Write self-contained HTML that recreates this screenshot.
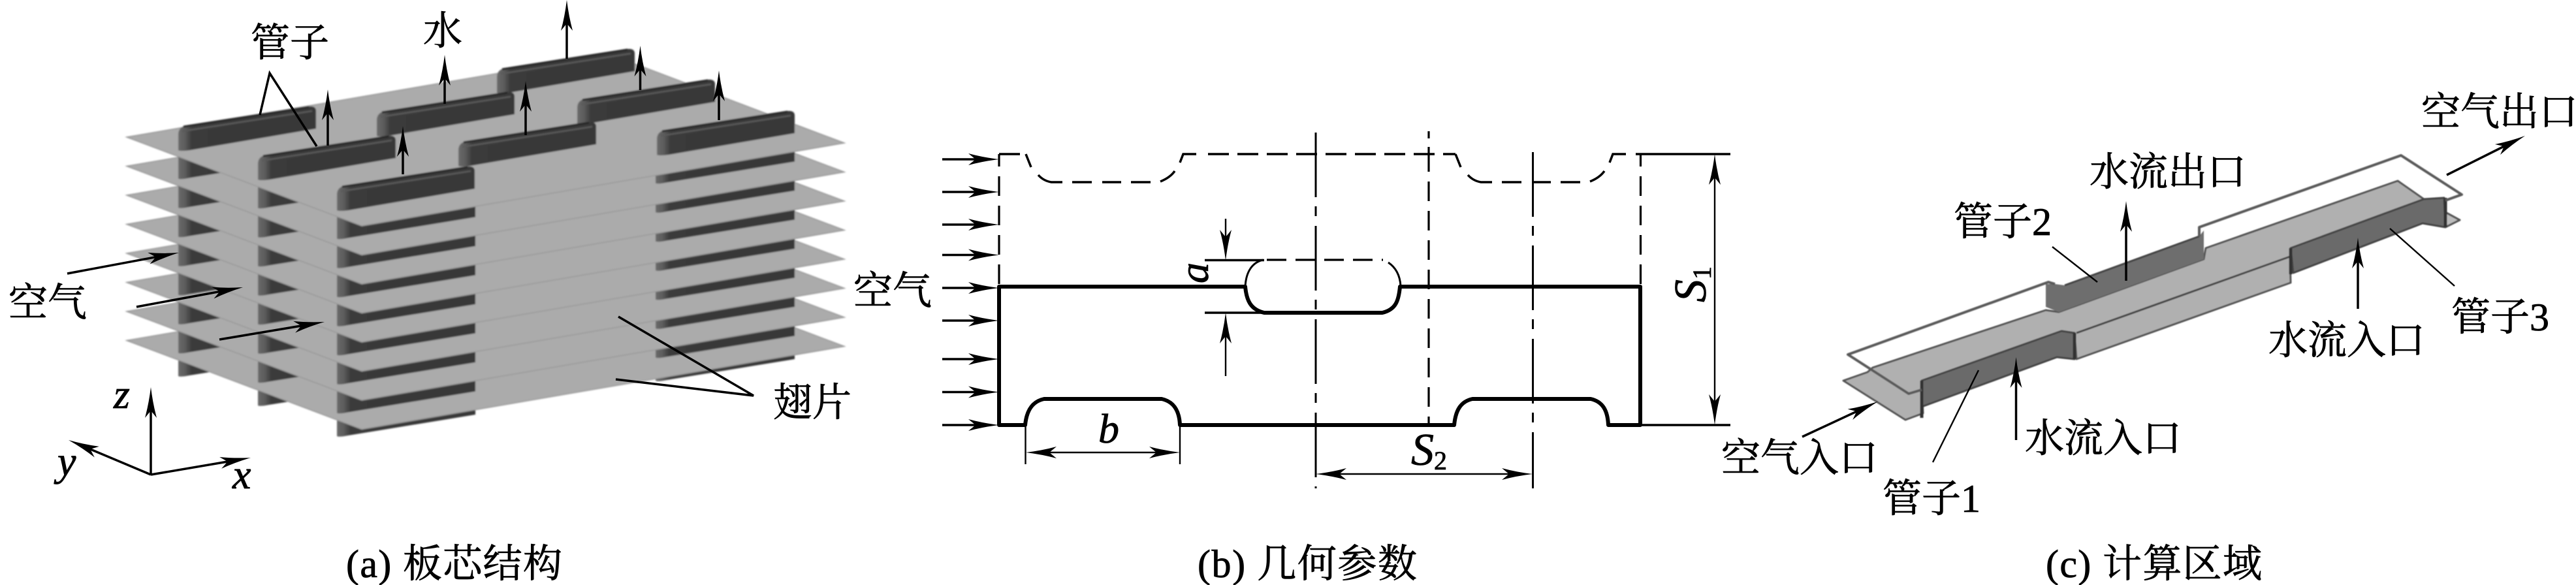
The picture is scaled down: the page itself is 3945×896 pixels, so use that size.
<!DOCTYPE html>
<html lang="zh"><head><meta charset="utf-8"><title>板芯结构 几何参数 计算区域</title>
<style>html,body{margin:0;padding:0;background:#fff}svg{display:block}
text{font-family:"Liberation Serif","Noto Serif CJK SC",serif;font-size:60px;fill:#000;stroke:#000;stroke-width:.8}
.i{font-style:italic;font-size:64px}.s{font-size:70px}.l{stroke:#000;stroke-width:3.5;fill:none}.t{stroke:#000;stroke-width:2.4;fill:none}
.k{stroke:#000;stroke-width:6;fill:none;stroke-linejoin:round}.d{stroke:#000;stroke-width:3.2;fill:none;stroke-dasharray:30 15}
.h{stroke:#000;stroke-width:3.5;fill:none;stroke-dasharray:32 13}
.c{stroke:#000;stroke-width:3;fill:none;stroke-dasharray:99 14 15 15}
</style></head><body>
<svg width="3945" height="896" viewBox="0 0 3945 896" xmlns="http://www.w3.org/2000/svg">
<defs>
<marker id="h" markerUnits="userSpaceOnUse" viewBox="-40 -12 60 24" refX="0" refY="0" markerWidth="60" markerHeight="24" orient="auto-start-reverse"><path d="M15 0Q-10 -3 -32 -9L-21 0L-32 9Q-10 3 15 0Z" fill="#000"/></marker>
<linearGradient id="g"><stop offset="0" stop-color="#6a6a6a"/><stop offset=".05" stop-color="#5c5c5c"/><stop offset=".1" stop-color="#3a3a3a"/><stop offset="1" stop-color="#383838"/></linearGradient>
<filter id="b" x="-5%" y="-5%" width="110%" height="110%"><feGaussianBlur stdDeviation="1.1"/></filter>
<filter id="b2" x="-2%" y="-2%" width="104%" height="104%"><feGaussianBlur stdDeviation=".8"/></filter>
<polygon id="fin" points="194,210 933,83 1293,219 554,346" fill="#ababab" stroke="#999" stroke-width="1.5"/>
<g id="seg" fill="url(#g)">
<path d="M273 184L483 151L483 197L290 228Q276 231 273 229Z"/>
<path d="M395 229L606 196L606 242L412 273Q398 276 395 274Z"/>
<path d="M516 276L728 242L728 288L533 320Q519 323 516 321Z"/>
<path d="M1004 191L1217 157L1217 203L1021 235Q1007 238 1004 236Z"/>
</g>
<g id="top"><path d="M0 12Q0 0 14 -2L200 -31Q211 -32 211 -24V3L18 36Q3 38 0 36Z" fill="url(#g)"/><path d="M6 7L205 -24" stroke="#5a5a5a" stroke-width="2.5" fill="none"/><path d="M8 0L200 -30" stroke="#262626" stroke-width="3" fill="none"/></g>
<path id="bump" class="l" d="M2229 236L2237 256M2248 268Q2256 277 2268 279H2285M2300 279H2330M2346 279H2375M2390 279H2420M2435 278Q2450 272 2457 262M2465 249L2470 236H2490"/>
</defs>

<!-- (a) -->
<g filter="url(#b)">
<use href="#seg" y="347"/><use href="#fin" y="311.5"/>
<use href="#seg" y="311.5"/><use href="#fin" y="267"/>
<use href="#seg" y="267"/><use href="#fin" y="222.5"/>
<use href="#seg" y="222.5"/><use href="#fin" y="178"/>
<use href="#seg" y="178"/><use href="#fin" y="133.5"/>
<use href="#seg" y="133.5"/><use href="#fin" y="89"/>
<use href="#seg" y="89"/><use href="#fin" y="44.5"/>
<use href="#seg" y="44.5"/><use href="#fin"/>
<use href="#top" x="761" y="106"/><use href="#top" x="577" y="172"/><use href="#top" x="884" y="153"/><use href="#top" x="273" y="194"/>
<use href="#top" x="702" y="218"/><use href="#top" x="395" y="239"/><use href="#top" x="1006" y="201"/><use href="#top" x="516" y="286"/>
</g>
<g class="l">
<path d="M502 223V152" marker-end="url(#h)"/><path d="M681 159V99" marker-end="url(#h)"/><path d="M617 267V208" marker-end="url(#h)"/>
<path d="M868 90V15" marker-end="url(#h)"/><path d="M980.5 138V85" marker-end="url(#h)"/><path d="M805 207V139" marker-end="url(#h)"/><path d="M1101 184V123" marker-end="url(#h)"/>
<path d="M103 419L259.3 389.8" marker-end="url(#h)"/><path d="M209 470L357.3 442.7" marker-end="url(#h)"/><path d="M336 520L482.2 495.5" marker-end="url(#h)"/>
<path d="M231 727V608" marker-end="url(#h)"/><path d="M231 727L369.2 703.5" marker-end="url(#h)"/><path d="M231 727L118.8 679.8" marker-end="url(#h)"/>
</g>
<path class="l" d="M398 176L413 112L485 224"/>
<path class="l" d="M947 485L1154 606L943 581"/>
<text x="384" y="86">管子</text><text x="648" y="68">水</text><text x="13" y="484">空气</text><text x="1184" y="637">翅片</text>
<text class="i" x="174" y="625">z</text><text class="i" x="88" y="728">y</text><text class="i" x="356" y="748">x</text>
<text x="530" y="884" textLength="331">(a) 板芯结构</text>

<!-- (b) -->
<path class="k" d="M1530 651V439H1907C1909 460 1915 474 1936 479H2117C2138 474 2142 460 2144 439H2512V651H2463C2462 628 2454 615 2436 611H2255C2236 615 2229 630 2227 651H1807C1806 628 1797 615 1779 611H1599C1580 615 1572 630 1570 651Z"/>
<use href="#bump"/><use href="#bump" x="-658"/>
<path class="l" d="M1530 236H1562"/>
<path class="h" d="M1850 236H2229"/>
<path class="d" style="stroke-dashoffset:11" d="M1530 236V439M2512.5 236V439"/>
<path class="d" d="M2188 233V651M2188 201V212M2188 225V233"/>
<path class="d" style="stroke-dasharray:30 14" d="M1940 398H2118"/>
<path class="t" style="stroke-width:3" d="M1907 439C1908 420 1915 403 1934 398M2145 438C2144 422 2138 410 2126 402"/>
<path class="l" d="M1845 398.5H1936M1845 479H1936"/>
<path class="c" d="M2015 203V748M2347.5 233V748"/>
<path class="l" d="M2505 236H2650M2512 651H2650"/>
<path class="t" d="M1570.5 651V711M1807 651V711"/>
<path class="t" d="M1877 335V384" marker-end="url(#h)"/><path class="t" d="M1877 576V494" marker-end="url(#h)"/>
<path class="t" d="M2626 251V636" marker-start="url(#h)" marker-end="url(#h)"/>
<path class="t" d="M1586 693H1792" marker-start="url(#h)" marker-end="url(#h)"/>
<path class="t" d="M2030 726H2332" marker-start="url(#h)" marker-end="url(#h)"/>
<path class="l" d="M1443 244H1515" marker-end="url(#h)"/><path class="l" d="M1443 294H1515" marker-end="url(#h)"/><path class="l" d="M1443 344H1515" marker-end="url(#h)"/><path class="l" d="M1443 390.5H1515" marker-end="url(#h)"/><path class="l" d="M1443 441H1515" marker-end="url(#h)"/><path class="l" d="M1443 491H1515" marker-end="url(#h)"/><path class="l" d="M1443 550H1515" marker-end="url(#h)"/><path class="l" d="M1443 600.5H1515" marker-end="url(#h)"/><path class="l" d="M1443 651H1515" marker-end="url(#h)"/>
<text x="1307" y="466">空气</text>
<text class="i" x="1682" y="678">b</text>
<text class="i" transform="translate(1850,434) rotate(-90)">a</text>
<text class="i s" transform="translate(2612,463) rotate(-90)">S<tspan font-size="40" dy="8" font-style="normal">1</tspan></text>
<text class="i s" x="2161" y="712">S<tspan font-size="40" dy="7" font-style="normal">2</tspan></text>
<text x="1834" y="884" textLength="336">(b) 几何参数</text>

<!-- (c) -->
<g filter="url(#b2)" stroke-linejoin="round">
<polygon points="2823,583 2860,570 2868,563 3133,475 3153,478 3375,397 3378,380 3672,277 3712,305 3508,380 3507,393 3508,433 3180,550 3177,510 3157,507 2943,583 2945,633 2918,643" fill="#b0b0b0" stroke="#555" stroke-width="3"/>
<path d="M3180 510L3507 393" stroke="#444" stroke-width="3" fill="none"/>
<polygon points="3133,435 3147,435 3162,437 3368,362 3375,353 3375,397 3153,478 3133,470" fill="#6e6e6e"/>
<path d="M3162 437L3368 362" stroke="#444" stroke-width="3" fill="none"/>
<polygon points="2943,583 3157,507 3177,510 3177,550 3150,547 2943,623" fill="#6b6b6b" stroke="#444" stroke-width="3"/>
<polygon points="3508,380 3712,305 3743,303 3745,348 3710,342 3512,418" fill="#6b6b6b" stroke="#444" stroke-width="3"/>
<polygon points="3745,325 3767,337 3745,348" fill="#bdbdbd" stroke="#555" stroke-width="3"/>
<path d="M3177 510V550M3508 380V420M3745 303V348M2943 583V640" stroke="#333" stroke-width="5" fill="none"/>
<path d="M2943 597L2923 603L2830 543L3137 432L3147 435M3368 362V348L3677 238L3770 298L3745 307" fill="none" stroke="#5a5a5a" stroke-width="4"/>
</g>
<path class="l" d="M3747 268L3853.6 214.7" marker-end="url(#h)"/>
<path class="l" d="M2760 669L2862.4 621.3" marker-end="url(#h)"/>
<path class="l" d="M3256 430V323" marker-end="url(#h)"/>
<path class="l" d="M3611 473V379" marker-end="url(#h)"/>
<path class="l" d="M3087.5 674V562" marker-end="url(#h)"/>
<path class="t" d="M3143 378L3212 432M3660 350L3759 438M2960 708L3030 567"/>
<text x="3708" y="192">空气出口</text><text x="3200" y="284">水流出口</text><text x="2992" y="360">管子2</text>
<text x="3754" y="506">管子3</text><text x="3474" y="542">水流入口</text><text x="3101" y="692">水流入口</text>
<text x="2636" y="722">空气入口</text><text x="2883" y="784">管子1</text>
<text x="3133" y="884" textLength="331">(c) 计算区域</text>
</svg>
</body></html>
